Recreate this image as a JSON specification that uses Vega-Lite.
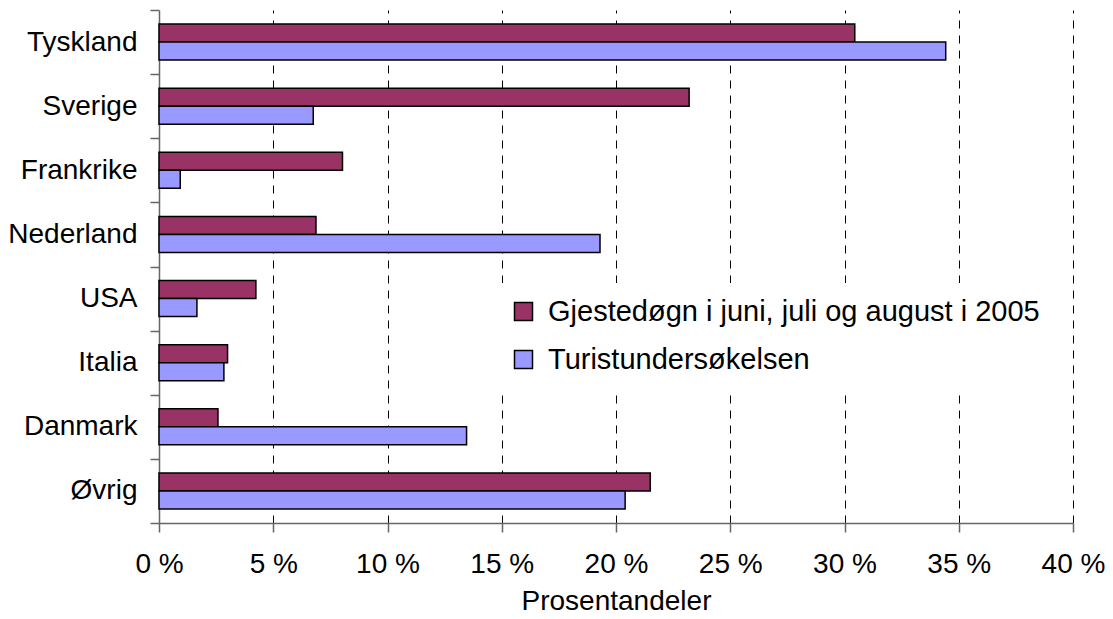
{
  "$schema": "https://vega.github.io/schema/vega-lite/v6.json",
  "width": 914,
  "height": 513,
  "autosize": {"type": "none"},
  "padding": {"left": 159, "top": 10, "right": 40, "bottom": 96},
  "background": "white",
  "config": {
    "view": {"stroke": null},
    "font": "Liberation Sans"
  },
  "data": {
    "values": [
      {"land": "Tyskland", "serie": "Gjestedøgn i juni, juli og august i 2005", "andel": 30.45},
      {"land": "Tyskland", "serie": "Turistundersøkelsen", "andel": 34.43},
      {"land": "Sverige", "serie": "Gjestedøgn i juni, juli og august i 2005", "andel": 23.2},
      {"land": "Sverige", "serie": "Turistundersøkelsen", "andel": 6.75},
      {"land": "Frankrike", "serie": "Gjestedøgn i juni, juli og august i 2005", "andel": 8.03},
      {"land": "Frankrike", "serie": "Turistundersøkelsen", "andel": 0.93},
      {"land": "Nederland", "serie": "Gjestedøgn i juni, juli og august i 2005", "andel": 6.87},
      {"land": "Nederland", "serie": "Turistundersøkelsen", "andel": 19.3},
      {"land": "USA", "serie": "Gjestedøgn i juni, juli og august i 2005", "andel": 4.24},
      {"land": "USA", "serie": "Turistundersøkelsen", "andel": 1.66},
      {"land": "Italia", "serie": "Gjestedøgn i juni, juli og august i 2005", "andel": 3.0},
      {"land": "Italia", "serie": "Turistundersøkelsen", "andel": 2.84},
      {"land": "Danmark", "serie": "Gjestedøgn i juni, juli og august i 2005", "andel": 2.58},
      {"land": "Danmark", "serie": "Turistundersøkelsen", "andel": 13.46},
      {"land": "Øvrig", "serie": "Gjestedøgn i juni, juli og august i 2005", "andel": 21.5},
      {"land": "Øvrig", "serie": "Turistundersøkelsen", "andel": 20.4}
    ]
  },
  "mark": {"type": "bar", "stroke": "black", "strokeWidth": 1.5},
  "encoding": {
    "y": {
      "field": "land",
      "type": "nominal",
      "sort": ["Tyskland", "Sverige", "Frankrike", "Nederland", "USA", "Italia", "Danmark", "Øvrig"],
      "scale": {"paddingInner": 0, "paddingOuter": 0},
      "axis": {
        "title": null,
        "tickBand": "extent",
        "domainColor": "#666666",
        "tickColor": "#666666",
        "domainWidth": 1.5,
        "tickWidth": 1.5,
        "tickSize": 9,
        "labelPadding": 13,
        "labelFontSize": 28,
        "labelColor": "black",
        "labelFont": "Liberation Sans"
      }
    },
    "yOffset": {
      "field": "serie",
      "type": "nominal",
      "sort": ["Gjestedøgn i juni, juli og august i 2005", "Turistundersøkelsen"],
      "scale": {"paddingInner": 0, "paddingOuter": 0.78}
    },
    "x": {
      "field": "andel",
      "type": "quantitative",
      "scale": {"domain": [0, 40], "nice": false},
      "axis": {
        "title": "Prosentandeler",
        "titleFontSize": 28,
        "titleFontWeight": "normal",
        "titleColor": "black",
        "titleFont": "Liberation Sans",
        "titlePadding": 9,
        "values": [0, 5, 10, 15, 20, 25, 30, 35, 40],
        "labelExpr": "datum.value + ' %'",
        "labelFontSize": 28,
        "labelColor": "black",
        "labelFont": "Liberation Sans",
        "labelPadding": 18,
        "labelFlush": false,
        "tickSize": 9,
        "tickColor": "#666666",
        "tickWidth": 1.5,
        "domainColor": "#666666",
        "domainWidth": 1.5,
        "grid": true,
        "gridColor": "black",
        "gridDash": [8, 7],
        "gridWidth": 1,
        "gridOpacity": {"condition": {"test": "datum.value === 0", "value": 0}, "value": 1}
      }
    },
    "color": {
      "field": "serie",
      "type": "nominal",
      "sort": ["Gjestedøgn i juni, juli og august i 2005", "Turistundersøkelsen"],
      "scale": {"range": ["#993366", "#9999FF"]},
      "legend": {
        "title": null,
        "orient": "none",
        "legendX": 336,
        "legendY": 273,
        "padding": 14,
        "fillColor": "white",
        "symbolType": "square",
        "symbolSize": 324,
        "symbolStrokeColor": "black",
        "symbolStrokeWidth": 1.5,
        "symbolOpacity": 1,
        "labelFontSize": 29,
        "labelFont": "Liberation Sans",
        "labelColor": "black",
        "labelOffset": 10,
        "labelLimit": 0,
        "rowPadding": 18
      }
    }
  }
}
